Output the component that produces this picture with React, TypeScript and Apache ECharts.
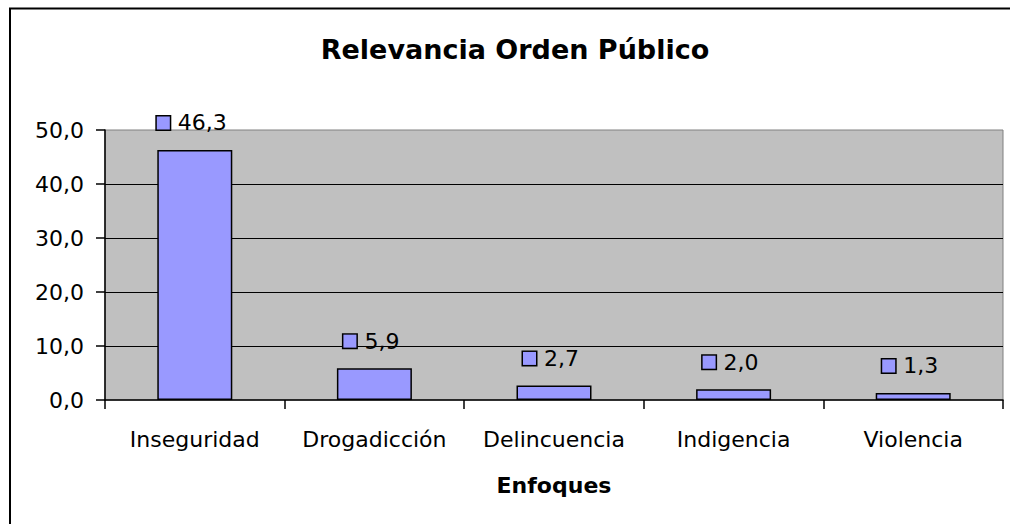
import React, { useEffect, useRef } from "react";
import * as echarts from "echarts";

const categories = ["Inseguridad", "Drogadicción", "Delincuencia", "Indigencia", "Violencia"];
const values = [46.3, 5.9, 2.7, 2.0, 1.3];
const titleText = "Relevancia Orden Público";
const xAxisName = "Enfoques";
const yMin = 0;
const yMax = 50;
const yInterval = 10;

const FONT = "DejaVu Sans";
const fmt = (v: number) => v.toFixed(1).replace(".", ",");

export default function App() {
  const ref = useRef<HTMLDivElement>(null);
  useEffect(() => {
    if (!ref.current) return;
    const chart = echarts.init(ref.current, null, { renderer: "svg" });
    chart.setOption({
      animation: false,
      backgroundColor: "#ffffff",
      title: {
        text: titleText,
        left: 510,
        textAlign: "center",
        top: 31,
        textStyle: { fontFamily: FONT, fontWeight: "bold", fontSize: 27, color: "#000" },
      },
      grid: {
        left: 105,
        right: 7,
        top: 130,
        bottom: 124,
        show: true,
        backgroundColor: "#C0C0C0",
        borderColor: "#808080",
        borderWidth: 1,
      },
      xAxis: {
        type: "category",
        data: categories,
        name: xAxisName,
        nameLocation: "middle",
        nameGap: 74,
        nameTextStyle: { fontFamily: FONT, fontWeight: "bold", fontSize: 22, color: "#000" },
        axisLine: { lineStyle: { color: "#000", width: 1.5 } },
        axisTick: { show: true, interval: 0, alignWithLabel: false, length: 9, lineStyle: { color: "#000", width: 1.5 } },
        axisLabel: { interval: 0, fontFamily: FONT, fontSize: 22, color: "#000", margin: 28 },
        splitLine: { show: false },
      },
      yAxis: {
        type: "value",
        min: yMin,
        max: yMax,
        interval: yInterval,
        axisLine: { show: true, lineStyle: { color: "#000", width: 1.5 } },
        axisTick: { show: true, length: 9, lineStyle: { color: "#000", width: 1.5 } },
        axisLabel: { fontFamily: FONT, fontSize: 22, color: "#000", margin: 21, formatter: (v: number) => fmt(v) },
        splitLine: { show: true, showMaxLine: false, showMinLine: false, lineStyle: { color: "#000", width: 1 } },
      },
      series: [
        {
          type: "bar",
          data: values,
          barWidth: 75,
          itemStyle: { color: "#9999FF", borderColor: "#000", borderWidth: 1.5 },
          label: {
            show: true,
            position: "top",
            distance: 16,
            offset: [-3, 0],
            formatter: (p: any) => "{s|}{v|" + fmt(p.value) + "}",
            rich: {
              s: {
                width: 13,
                height: 13,
                backgroundColor: "#9999FF",
                borderColor: "#000",
                borderWidth: 1.5,
              },
              v: {
                fontFamily: FONT,
                fontSize: 22,
                lineHeight: 22,
                color: "#000",
                padding: [0, 0, 0, 8],
              },
            },
          },
        },
      ],
      graphic: [
        {
          type: "rect",
          shape: { x: 10, y: 8.5, width: 1100, height: 600 },
          style: { fill: "none", stroke: "#000", lineWidth: 2 },
          silent: true,
        },
      ],
    });
    return () => chart.dispose();
  }, []);
  return (
    <div
      ref={ref}
      style={{ position: "fixed", left: 0, top: 0, width: 1010, height: 524 }}
    />
  );
}
